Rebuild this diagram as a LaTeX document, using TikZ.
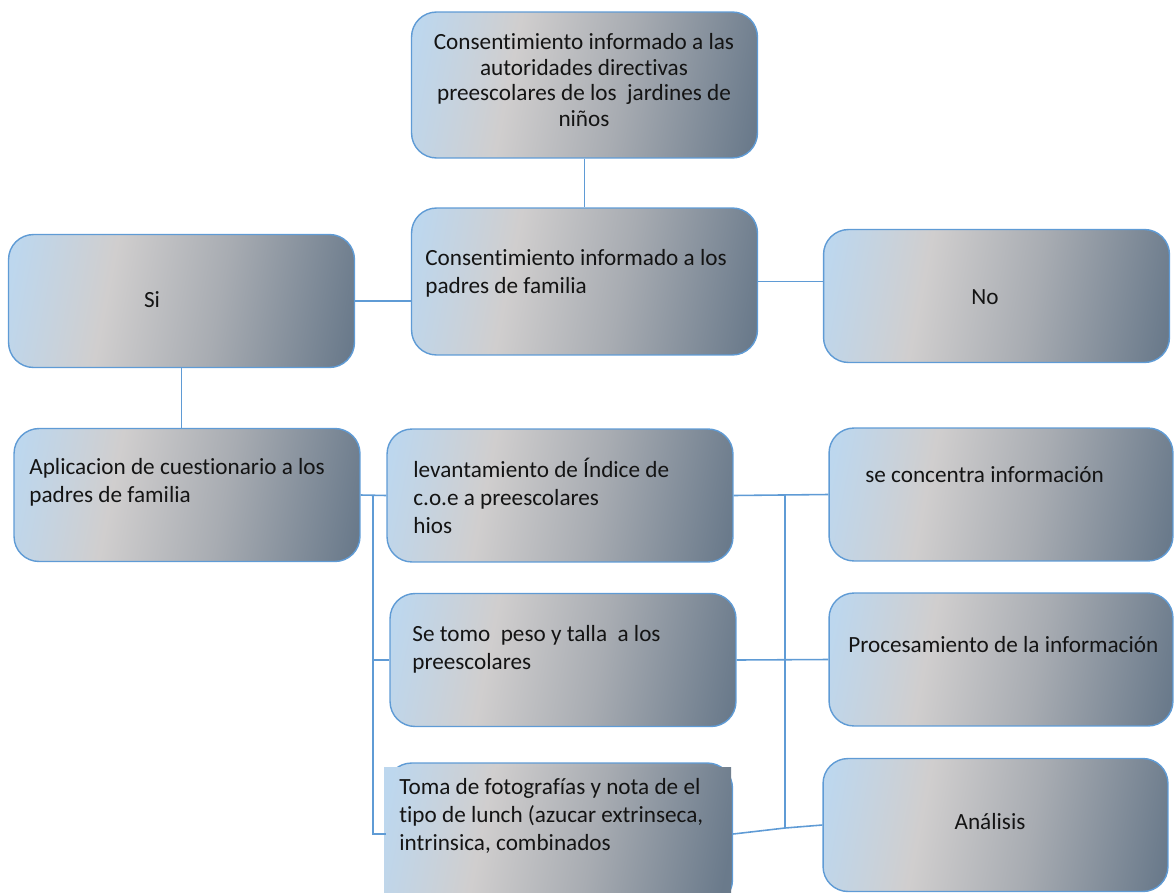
\documentclass[tikz,border=0pt]{standalone}
\usepackage{fontspec}
\setmainfont{Carlito}[Ligatures=NoCommon]
\usepackage{tikz}
\usetikzlibrary{positioning}
\usetikzlibrary{shadings}
\usetikzlibrary{calc}
\definecolor{lblue}{RGB}{189,215,238}
\definecolor{lgray}{RGB}{208,206,206}
\definecolor{mgray}{RGB}{168,172,178}
\definecolor{slate}{RGB}{106,122,139}
\definecolor{conn}{RGB}{95,155,213}
\pgfdeclarehorizontalshading{boxshade}{100bp}{color(0bp)=(lblue); color(22bp)=(lblue); color(38bp)=(lgray); color(56bp)=(mgray); color(78bp)=(slate); color(100bp)=(slate)}
\tikzstyle{box}=[rectangle,rounded corners=0.5cm,draw=conn,line width=0.8pt,shade,shading=boxshade,shading angle=-11,minimum width=6.92cm,minimum height=2.66cm,inner sep=0pt]
\tikzstyle{txt}=[font=\fontsize{13.2}{16}\selectfont,text=black!92,inner sep=0pt,align=left]
\tikzstyle{link}=[draw=conn,line width=0.9pt]

\begin{document}
\begin{tikzpicture}[x=0.02cm,y=-0.02cm]

   \useasboundingbox (0,0) rectangle (1175,892);

   % boxes
   \node[box, minimum height=2.92cm] (auto) at (584.5,85) {};
   \node[box, minimum height=2.94cm] (padres) at (584.5,281.5) {};
   \node[box] (si) at (181.5,301) {};
   \node[box] (no) at (996.5,296) {};
   \node[box] (aplic) at (187,495) {};
   \node[box] (levan) at (560,495.5) {};
   \node[box] (peso) at (563,660) {};
   \node[box, minimum height=2.84cm] (fotos) at (559.5,834) {};
   \shade[shading=boxshade, shading angle=-11] (384,767) rectangle (731,892);
   \node[box, minimum width=6.88cm] (concen) at (1001,494.5) {};
   \node[box, minimum width=6.88cm] (proc) at (1001,659.5) {};
   \node[box, minimum width=6.9cm] (anal) at (995.5,825) {};

   % texts
   \node[txt, align=center, font=\fontsize{13.2}{14.5}\selectfont] (auto-t) at (584,80) {Consentimiento informado a las\\autoridades directivas\\preescolares de los\ \ jardines de\\niños};
   \node[txt, anchor=west] (padres-t) at (425,273) {Consentimiento informado a los\\padres de familia};
   \node[txt] (si-t) at (152,300) {Si};
   \node[txt] (no-t) at (985,297) {No};
   \node[txt, anchor=west] (aplic-t) at (29,482) {Aplicacion de cuestionario a los\\padres de familia};
   \node[txt, anchor=west] (levan-t) at (413,496) {levantamiento de Índice de\\c.o.e a preescolares\\hios};
   \node[txt, anchor=west] (peso-t) at (412,649.5) {Se tomo\ \ peso y talla\ \ a los\\preescolares};
   \node[txt, anchor=west] (fotos-t) at (399,816) {Toma de fotografías y nota de el\\tipo de lunch (azucar extrinseca,\\intrinsica, combinados};
   \node[txt, anchor=west] (concen-t) at (865,475) {se concentra información};
   \node[txt, anchor=west] (proc-t) at (848,645) {Procesamiento de la información};
   \node[txt] (anal-t) at (990,822) {Análisis};

   % connectors
   \coordinate (lb) at (373,495);
   \coordinate (rb) at (785,495);
   \coordinate (rb2) at (785,828);

   \draw[link] (auto.south) -- (padres.north);
   \draw[link] (si.east) -- (si.east -| padres.west);
   \draw[link] (padres.east) -- (padres.east -| no.west);
   \draw[link] (si.south) -- (si.south |- aplic.north);

   \draw[link] (aplic.east) -- (levan.west);
   \draw[link] (lb) |- (peso.west);
   \draw[link] (lb) |- (fotos.west);

   \draw[link] (levan.east) -- (concen.west);
   \draw[link] (peso.east) -- (proc.west);
   \draw[link] (rb) -- (rb2);
   \draw[link] (fotos.east) -- (rb2) -- (anal.west);

\end{tikzpicture}
\end{document}
